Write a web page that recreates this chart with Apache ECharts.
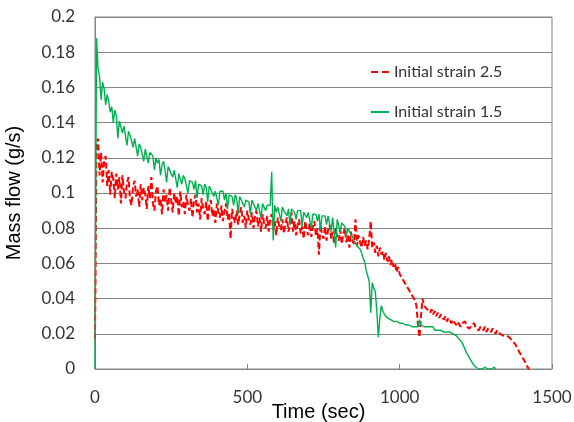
<!DOCTYPE html>
<html>
<head>
<meta charset="utf-8">
<script src="https://cdn.jsdelivr.net/npm/echarts@6/dist/echarts.min.js"></script>
<style>
  html, body { margin: 0; padding: 0; background: #fff; }
  #chart { width: 574px; height: 422px; }
</style>
</head>
<body>
<div id="chart"></div>
<script>
// Logger sample interval (seconds)
const SAMPLE_STEP = 5;

// Mass flow (g/s), initial strain 2.5, one sample every SAMPLE_STEP seconds from t = 0
const strain25 = [
  0.017, 0.128, 0.131, 0.110, 0.123, 0.106, 0.118, 0.121, 0.104, 0.113,
  0.099, 0.112, 0.108, 0.097, 0.111, 0.102, 0.109, 0.094, 0.110, 0.101,
  0.097, 0.106, 0.109, 0.096, 0.093, 0.104, 0.107, 0.098, 0.102, 0.092,
  0.105, 0.096, 0.103, 0.099, 0.091, 0.104, 0.097, 0.109, 0.094, 0.090,
  0.101, 0.104, 0.093, 0.097, 0.088, 0.102, 0.095, 0.099, 0.090, 0.103,
  0.096, 0.089, 0.100, 0.094, 0.098, 0.087, 0.101, 0.092, 0.095, 0.088,
  0.099, 0.093, 0.090, 0.097, 0.086, 0.096, 0.099, 0.089, 0.094, 0.085,
  0.097, 0.091, 0.088, 0.095, 0.084, 0.093, 0.096, 0.087, 0.091, 0.083,
  0.094, 0.089, 0.086, 0.093, 0.084, 0.090, 0.094, 0.085, 0.089, 0.074,
  0.091, 0.086, 0.083, 0.090, 0.082, 0.088, 0.092, 0.083, 0.087, 0.080,
  0.090, 0.085, 0.082, 0.089, 0.080, 0.087, 0.090, 0.081, 0.086, 0.078,
  0.088, 0.083, 0.080, 0.087, 0.078, 0.085, 0.088, 0.079, 0.084, 0.076,
  0.086, 0.081, 0.079, 0.085, 0.077, 0.083, 0.086, 0.078, 0.082, 0.089,
  0.078, 0.084, 0.076, 0.082, 0.085, 0.077, 0.081, 0.074, 0.084, 0.079,
  0.076, 0.083, 0.075, 0.081, 0.084, 0.076, 0.080, 0.065, 0.082, 0.077,
  0.074, 0.081, 0.073, 0.079, 0.082, 0.074, 0.078, 0.071, 0.080, 0.075,
  0.073, 0.079, 0.071, 0.077, 0.080, 0.072, 0.076, 0.069, 0.078, 0.073,
  0.071, 0.085, 0.070, 0.076, 0.072, 0.069, 0.075, 0.070, 0.073, 0.068,
  0.074, 0.084, 0.069, 0.072, 0.066, 0.070, 0.064, 0.069, 0.065, 0.067,
  0.062, 0.066, 0.061, 0.064, 0.059, 0.062, 0.058, 0.060, 0.055, 0.058,
  0.054, 0.055, 0.051, 0.052, 0.048, 0.049, 0.045, 0.046, 0.042, 0.043,
  0.039, 0.036, 0.025, 0.018, 0.030, 0.040, 0.036, 0.037, 0.034, 0.035,
  0.032, 0.034, 0.031, 0.033, 0.030, 0.032, 0.029, 0.031, 0.030, 0.028,
  0.030, 0.027, 0.029, 0.028, 0.026, 0.028, 0.027, 0.025, 0.027, 0.026,
  0.024, 0.026, 0.025, 0.027, 0.024, 0.025, 0.023, 0.025, 0.024, 0.026,
  0.023, 0.024, 0.022, 0.024, 0.023, 0.022, 0.024, 0.021, 0.023, 0.022,
  0.021, 0.023, 0.022, 0.020, 0.022, 0.021, 0.020, 0.021, 0.019, 0.020,
  0.019, 0.020, 0.018, 0.017, 0.016, 0.015, 0.014, 0.012, 0.011, 0.009,
  0.008, 0.006, 0.005, 0.003, 0.001, 0.000
];

// Mass flow (g/s), initial strain 1.5, same sampling
const strain15 = [
  0.000, 0.188, 0.171, 0.166, 0.153, 0.163, 0.159, 0.150, 0.156, 0.152,
  0.146, 0.149, 0.140, 0.147, 0.144, 0.131, 0.141, 0.140, 0.134, 0.138,
  0.137, 0.127, 0.135, 0.133, 0.134, 0.126, 0.131, 0.130, 0.121, 0.128,
  0.126, 0.127, 0.118, 0.125, 0.124, 0.117, 0.123, 0.122, 0.121, 0.113,
  0.120, 0.117, 0.119, 0.110, 0.116, 0.118, 0.113, 0.106, 0.115, 0.113,
  0.114, 0.109, 0.113, 0.112, 0.103, 0.111, 0.110, 0.105, 0.110, 0.108,
  0.109, 0.100, 0.107, 0.108, 0.106, 0.102, 0.107, 0.097, 0.105, 0.106,
  0.104, 0.099, 0.105, 0.103, 0.095, 0.104, 0.102, 0.103, 0.098, 0.101,
  0.102, 0.093, 0.101, 0.100, 0.101, 0.096, 0.100, 0.091, 0.099, 0.100,
  0.098, 0.093, 0.099, 0.097, 0.088, 0.098, 0.096, 0.097, 0.092, 0.096,
  0.097, 0.095, 0.088, 0.096, 0.094, 0.095, 0.090, 0.094, 0.095, 0.086,
  0.094, 0.093, 0.090, 0.093, 0.092, 0.093, 0.112, 0.073, 0.093, 0.089,
  0.092, 0.091, 0.084, 0.092, 0.090, 0.091, 0.087, 0.091, 0.082, 0.091,
  0.090, 0.089, 0.085, 0.090, 0.089, 0.090, 0.081, 0.089, 0.088, 0.086,
  0.089, 0.088, 0.080, 0.088, 0.087, 0.088, 0.084, 0.088, 0.079, 0.087,
  0.086, 0.087, 0.082, 0.087, 0.086, 0.078, 0.086, 0.085, 0.069, 0.085,
  0.084, 0.078, 0.083, 0.082, 0.081, 0.076, 0.080, 0.078, 0.077, 0.075,
  0.073, 0.072, 0.070, 0.071, 0.068, 0.066, 0.063, 0.061, 0.056, 0.053,
  0.050, 0.032, 0.049, 0.046, 0.044, 0.033, 0.018, 0.029, 0.036, 0.033,
  0.031, 0.030, 0.029, 0.029, 0.028, 0.028, 0.027, 0.028, 0.027, 0.027,
  0.026, 0.027, 0.026, 0.026, 0.025, 0.026, 0.025, 0.025, 0.024, 0.025,
  0.024, 0.025, 0.024, 0.028, 0.025, 0.026, 0.024, 0.025, 0.024, 0.023,
  0.024, 0.023, 0.024, 0.022, 0.023, 0.022, 0.023, 0.022, 0.023, 0.021,
  0.022, 0.021, 0.022, 0.021, 0.021, 0.020, 0.021, 0.019, 0.019, 0.017,
  0.016, 0.015, 0.013, 0.011, 0.009, 0.008, 0.006, 0.005, 0.003, 0.002,
  0.001, 0.000, 0.000, 0.001, 0.000, 0.000, 0.001, 0.000, 0.000, 0.001,
  0.000, 0.000, 0.001, 0.000
];

const seriesNames = ['Initial strain 2.5', 'Initial strain 1.5'];
const xTicks = { min: 0, max: 1500, interval: 500 };
const yTicks = { min: 0, max: 0.2, interval: 0.02 };

const toPairs = (vals) => vals.map((v, i) => [i * SAMPLE_STEP, v]);

const chart = echarts.init(document.getElementById('chart'), null, { renderer: 'canvas' });

const axisGrey = '#868686';
const labelFont = 'Lato, "Open Sans", sans-serif';
const titleFont = '"Liberation Sans", Arial, sans-serif';

// Legend swatches: a dashed stroke for the red series, a solid one for the green
const dashIcon = 'path://M0,0H7V2H0Z M11,0H18V2H11Z';
const solidIcon = 'path://M0,0H18V2H0Z';

chart.setOption({
  backgroundColor: '#ffffff',
  animation: false,
  grid: {
    left: 95, right: 22, top: 17, bottom: 53,
    containLabel: false,
    outerBoundsMode: 'none',
    show: true, borderColor: axisGrey, borderWidth: 1
  },
  legend: {
    orient: 'vertical',
    left: 366, top: 59,
    itemWidth: 18, itemHeight: 2, itemGap: 24,
    textStyle: { fontFamily: labelFont, fontSize: 16, color: '#333333' },
    data: [
      { name: seriesNames[0], icon: dashIcon, itemStyle: { color: '#ff0000' } },
      { name: seriesNames[1], icon: solidIcon, itemStyle: { color: '#00b050' } }
    ]
  },
  xAxis: {
    type: 'value',
    min: xTicks.min, max: xTicks.max, interval: xTicks.interval,
    name: 'Time (sec)',
    nameLocation: 'middle',
    nameGap: 33,
    nameMoveOverlap: false,
    nameTextStyle: { fontFamily: titleFont, fontSize: 20, color: '#000', padding: [0, 10, 0, 0] },
    axisLine: { show: true, lineStyle: { color: axisGrey, width: 1 } },
    axisTick: { show: true, inside: true, length: 5, lineStyle: { color: axisGrey } },
    axisLabel: { fontFamily: labelFont, fontSize: 17, color: '#333333', margin: 20, formatter: (v) => String(v) },
    splitLine: { show: false }
  },
  yAxis: {
    type: 'value',
    min: yTicks.min, max: yTicks.max, interval: yTicks.interval,
    name: 'Mass flow (g/s)',
    nameLocation: 'middle',
    nameGap: 71,
    nameMoveOverlap: false,
    nameRotate: 90,
    nameTextStyle: { fontFamily: titleFont, fontSize: 20, color: '#000' },
    axisLine: { show: true, lineStyle: { color: axisGrey, width: 1 } },
    axisTick: { show: false },
    axisLabel: {
      fontFamily: labelFont, fontSize: 17, color: '#333333', margin: 20,
      formatter: (v) => String(+v.toFixed(2))
    },
    splitLine: { show: true, lineStyle: { color: axisGrey, width: 1 } }
  },
  series: [
    {
      name: seriesNames[0],
      type: 'line',
      data: toPairs(strain25),
      showSymbol: false,
      symbol: 'none',
      lineStyle: { color: '#ff0000', width: 2, type: [6, 3] },
      itemStyle: { color: '#ff0000' }
    },
    {
      name: seriesNames[1],
      type: 'line',
      data: toPairs(strain15),
      showSymbol: false,
      symbol: 'none',
      lineStyle: { color: '#00b050', width: 1.4 },
      itemStyle: { color: '#00b050' }
    }
  ]
});
</script>
</body>
</html>
